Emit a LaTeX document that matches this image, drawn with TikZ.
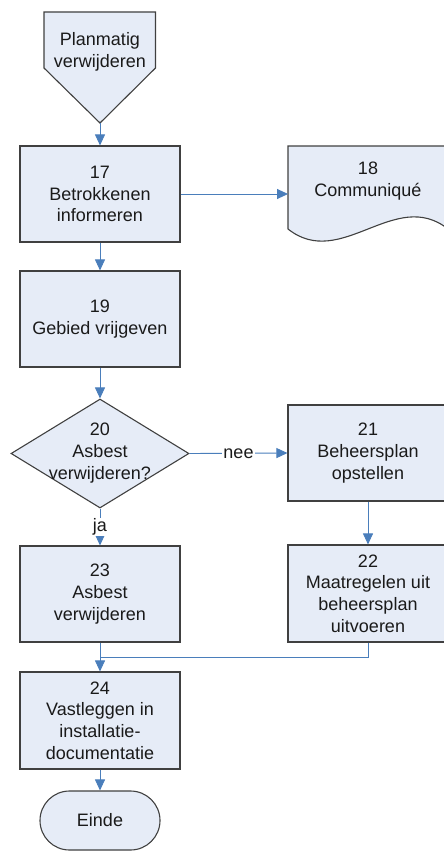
\documentclass[tikz,border=0pt]{standalone}
\usepackage{fontspec}
\setmainfont{Liberation Sans}
\usetikzlibrary{shapes.geometric,arrows.meta}
\definecolor{boxfill}{HTML}{E6ECF7}
\definecolor{boxline}{HTML}{404040}
\definecolor{flow}{HTML}{4A7EBB}
\definecolor{ink}{HTML}{1A1A1A}
\begin{document}
\begin{tikzpicture}[x=1pt,y=-1pt,
  txt/.style={font=\fontsize{18}{21.7}\selectfont, align=center, text=ink},
  shapeline/.style={draw=boxline, fill=boxfill, line width=1.1pt},
  stepbox/.style={shapeline, minimum width=160pt, minimum height=96pt, inner sep=0pt, txt},
  flowline/.style={draw=flow, line width=0.9pt},
  flowarrow/.style={flowline, -{Triangle[length=11pt,width=10pt]}},
  lbl/.style={txt, fill=white, inner sep=1pt}]
\useasboundingbox (0,0) rectangle (444,851);

% start (off-page connector)
\draw[shapeline] (44,12) -- (155.5,12) -- (155.5,68) -- (100,123) -- (44,68) -- cycle;
\node[txt] (start) at (100,52) {Planmatig\\verwijderen};
\coordinate (starttip) at (100,123);

% boxes
\node[stepbox] (b17) at (100,194) {17\\Betrokkenen\\informeren};
\node[stepbox] (b19) at (100,319) {19\\Gebied vrijgeven};
\node[stepbox] (b21) at (368,453) {21\\Beheersplan\\opstellen};
\node[stepbox, minimum height=97pt] (b22) at (368,593.5) {22\\Maatregelen uit\\beheersplan\\uitvoeren};
\node[stepbox] (b23) at (100,594) {23\\Asbest\\verwijderen};
\node[stepbox, minimum height=97pt] (b24) at (100,720.5) {24\\Vastleggen in\\installatie-\\documentatie};

% document shape
\draw[shapeline] (288,146) -- (448,146) -- (448,229)
  .. controls (395,187) and (341,271) .. (288,229) -- cycle;
\node[txt] (b18) at (368,181) {18\\Communiqué};
\coordinate (docw) at (288,194);

% decision
\node[diamond, shapeline, minimum width=178pt, minimum height=109pt, inner sep=0pt] (d20) at (100,453.5) {};
\node[txt] (t20) at (100,453) {20\\Asbest\\verwijderen?};

% terminal
\node[shapeline, txt, minimum width=120pt, minimum height=59pt, rounded corners=29.5pt, inner sep=0pt] (einde) at (100,820.5) {Einde};

% connectors
\draw[flowarrow] (starttip) -- (b17.north);
\draw[flowarrow] (b17.east) -- (docw);
\draw[flowarrow] (b17.south) -- (b19.north);
\draw[flowarrow] (b19.south) -- (d20.north);
\draw[flowarrow] (d20.east) -- node[lbl] (nee) {nee} (b21.west);
\draw[flowarrow] (d20.south) -- node[lbl] (ja) {ja} (b23.north);
\draw[flowarrow] (b21.south) -- (b22.south |- b22.north);
\coordinate (merge) at (100,657);
\draw[flowline] (b22.south) |- (merge);
\draw[flowarrow] (b23.south) -- (b24.north);
\draw[flowarrow] (b24.south) -- (einde.north);
\end{tikzpicture}
\end{document}
